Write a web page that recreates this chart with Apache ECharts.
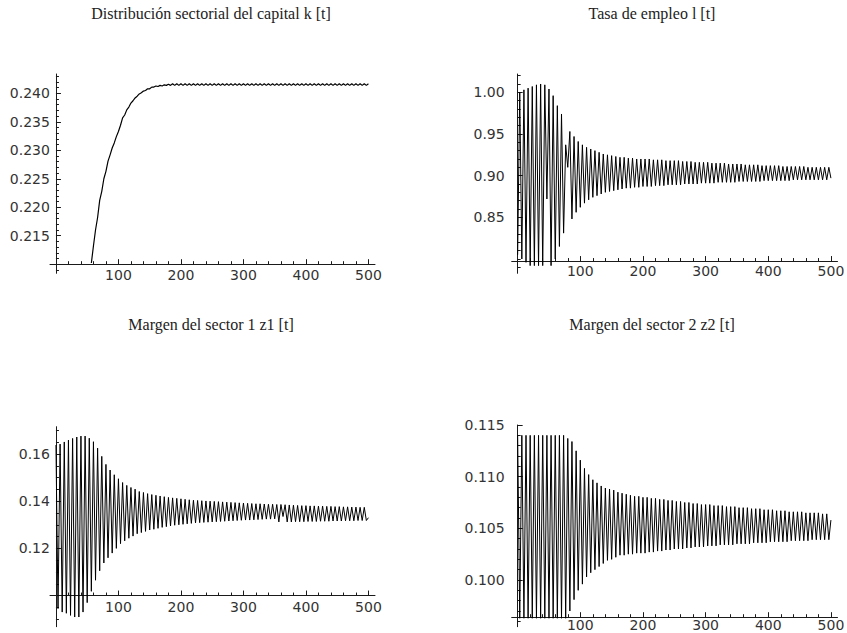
<!DOCTYPE html>
<html>
<head>
<meta charset="utf-8">
<title>Gráficos</title>
<script src="https://cdn.jsdelivr.net/npm/echarts@6.0.0/dist/echarts.min.js"></script>
<style>
html,body{margin:0;padding:0;background:#ffffff;}
#chart{width:847px;height:633px;}
</style>
</head>
<body>
<div id="chart"></div>
<script>
const panelTitles = [
  'Distribución sectorial del capital k [t]',
  'Tasa de empleo l [t]',
  'Margen del sector 1 z1 [t]',
  'Margen del sector 2 z2 [t]'
];

// time axis of every series: t = timeStart + index * timeStep
const timeStart = 0;
const timeStep = 10 / 3;

const kValues = [
  null, null, null, null, null, null, null, null, null, null,
  null, null, null, null, null, null, null, 0.2102, 0.2132, 0.2160,
  0.2182, 0.2212, 0.2228, 0.2250, 0.2263, 0.2281, 0.2292, 0.2304, 0.2313, 0.2324,
  0.2333, 0.2344, 0.2357, 0.2362, 0.2371, 0.2376, 0.2383, 0.2387, 0.2392, 0.2395,
  0.2399, 0.2401, 0.2404, 0.2405, 0.2408, 0.2408, 0.2411, 0.2411, 0.2413, 0.2412,
  0.2414, 0.2413, 0.2415, 0.2414, 0.2416, 0.2414, 0.2417, 0.2414, 0.2417, 0.2414,
  0.2417, 0.2414, 0.2417, 0.2414, 0.2417, 0.2414, 0.2417, 0.2414, 0.2417, 0.2414,
  0.2417, 0.2414, 0.2417, 0.2414, 0.2417, 0.2414, 0.2417, 0.2414, 0.2417, 0.2414,
  0.2417, 0.2414, 0.2417, 0.2414, 0.2417, 0.2414, 0.2417, 0.2414, 0.2417, 0.2414,
  0.2417, 0.2414, 0.2417, 0.2414, 0.2417, 0.2414, 0.2417, 0.2414, 0.2417, 0.2414,
  0.2417, 0.2414, 0.2417, 0.2414, 0.2417, 0.2414, 0.2417, 0.2414, 0.2417, 0.2414,
  0.2417, 0.2414, 0.2417, 0.2414, 0.2417, 0.2414, 0.2417, 0.2414, 0.2417, 0.2414,
  0.2417, 0.2414, 0.2417, 0.2414, 0.2417, 0.2414, 0.2417, 0.2414, 0.2417, 0.2414,
  0.2417, 0.2414, 0.2417, 0.2414, 0.2417, 0.2414, 0.2417, 0.2414, 0.2417, 0.2414,
  0.2417, 0.2414, 0.2417, 0.2414, 0.2417, 0.2414, 0.2417, 0.2414, 0.2417, 0.2414,
  0.2417
];

const lValues = [
  0.805, 1.000, 0.800, 1.003, 0.796, 1.005, 0.792, 1.007, 0.792, 1.009,
  0.792, 1.010, 0.792, 1.009, 0.872, 1.004, 0.792, 0.996, 0.800, 0.984,
  0.815, 0.974, 0.831, 0.937, 0.910, 0.953, 0.848, 0.947, 0.856, 0.941,
  0.862, 0.937, 0.867, 0.934, 0.871, 0.932, 0.874, 0.930, 0.876, 0.928,
  0.878, 0.926, 0.880, 0.925, 0.881, 0.924, 0.882, 0.923, 0.883, 0.922,
  0.884, 0.922, 0.885, 0.921, 0.885, 0.921, 0.886, 0.920, 0.886, 0.920,
  0.887, 0.920, 0.887, 0.920, 0.887, 0.919, 0.888, 0.919, 0.888, 0.919,
  0.888, 0.918, 0.889, 0.918, 0.889, 0.918, 0.889, 0.918, 0.889, 0.917,
  0.890, 0.917, 0.890, 0.917, 0.890, 0.916, 0.890, 0.916, 0.891, 0.916,
  0.891, 0.916, 0.891, 0.915, 0.891, 0.915, 0.892, 0.915, 0.892, 0.915,
  0.892, 0.914, 0.892, 0.914, 0.892, 0.914, 0.893, 0.914, 0.893, 0.913,
  0.893, 0.913, 0.893, 0.913, 0.893, 0.913, 0.893, 0.912, 0.894, 0.912,
  0.894, 0.912, 0.894, 0.912, 0.894, 0.912, 0.894, 0.911, 0.894, 0.911,
  0.894, 0.911, 0.895, 0.911, 0.895, 0.911, 0.895, 0.911, 0.895, 0.910,
  0.895, 0.910, 0.895, 0.910, 0.895, 0.910, 0.895, 0.910, 0.895, 0.910,
  0.897
];

const z1Values = [
  0.1638, 0.0945, 0.1642, 0.0930, 0.1651, 0.0925, 0.1659, 0.0916, 0.1666, 0.0909,
  0.1672, 0.0909, 0.1676, 0.0930, 0.1676, 0.0970, 0.1667, 0.1018, 0.1652, 0.1065,
  0.1625, 0.1105, 0.1590, 0.1138, 0.1556, 0.1160, 0.1532, 0.1180, 0.1512, 0.1200,
  0.1495, 0.1220, 0.1479, 0.1232, 0.1467, 0.1243, 0.1458, 0.1252, 0.1451, 0.1262,
  0.1441, 0.1267, 0.1437, 0.1272, 0.1432, 0.1278, 0.1428, 0.1281, 0.1425, 0.1285,
  0.1422, 0.1289, 0.1419, 0.1292, 0.1416, 0.1295, 0.1414, 0.1298, 0.1412, 0.1300,
  0.1410, 0.1302, 0.1408, 0.1304, 0.1406, 0.1306, 0.1404, 0.1308, 0.1403, 0.1309,
  0.1402, 0.1310, 0.1401, 0.1311, 0.1400, 0.1312, 0.1399, 0.1313, 0.1398, 0.1314,
  0.1397, 0.1315, 0.1396, 0.1316, 0.1395, 0.1317, 0.1394, 0.1318, 0.1393, 0.1319,
  0.1392, 0.1320, 0.1391, 0.1320, 0.1390, 0.1321, 0.1389, 0.1322, 0.1389, 0.1323,
  0.1388, 0.1324, 0.1387, 0.1324, 0.1387, 0.1325, 0.1386, 0.1312, 0.1386, 0.1335,
  0.1385, 0.1312, 0.1384, 0.1312, 0.1383, 0.1313, 0.1382, 0.1313, 0.1381, 0.1313,
  0.1381, 0.1314, 0.1380, 0.1314, 0.1380, 0.1314, 0.1379, 0.1315, 0.1379, 0.1315,
  0.1378, 0.1315, 0.1378, 0.1316, 0.1377, 0.1316, 0.1377, 0.1316, 0.1376, 0.1317,
  0.1376, 0.1317, 0.1375, 0.1317, 0.1375, 0.1318, 0.1374, 0.1318, 0.1374, 0.1318,
  0.1330
];

const z2Values = [
  0.1140, 0.0963, 0.1140, 0.0963, 0.1140, 0.0963, 0.1140, 0.0963, 0.1140, 0.0963,
  0.1140, 0.0963, 0.1140, 0.0963, 0.1140, 0.0963, 0.1140, 0.0963, 0.1140, 0.0963,
  0.1140, 0.0963, 0.1140, 0.0963, 0.1137, 0.0970, 0.1134, 0.0981, 0.1125, 0.0990,
  0.1116, 0.0996, 0.1108, 0.1003, 0.1102, 0.1007, 0.1097, 0.1010, 0.1094, 0.1013,
  0.1091, 0.1016, 0.1089, 0.1019, 0.1088, 0.1020, 0.1087, 0.1022, 0.1085, 0.1024,
  0.1084, 0.1024, 0.1083, 0.1025, 0.1082, 0.1025, 0.1081, 0.1026, 0.1081, 0.1026,
  0.1080, 0.1026, 0.1080, 0.1027, 0.1079, 0.1027, 0.1079, 0.1028, 0.1078, 0.1028,
  0.1078, 0.1029, 0.1077, 0.1029, 0.1077, 0.1030, 0.1076, 0.1030, 0.1076, 0.1030,
  0.1075, 0.1031, 0.1075, 0.1031, 0.1074, 0.1032, 0.1074, 0.1032, 0.1073, 0.1032,
  0.1073, 0.1033, 0.1073, 0.1033, 0.1072, 0.1033, 0.1072, 0.1034, 0.1072, 0.1034,
  0.1071, 0.1034, 0.1071, 0.1034, 0.1071, 0.1035, 0.1070, 0.1035, 0.1070, 0.1035,
  0.1070, 0.1035, 0.1069, 0.1036, 0.1069, 0.1036, 0.1069, 0.1036, 0.1068, 0.1036,
  0.1068, 0.1037, 0.1068, 0.1037, 0.1067, 0.1037, 0.1067, 0.1037, 0.1067, 0.1037,
  0.1066, 0.1038, 0.1066, 0.1038, 0.1066, 0.1038, 0.1066, 0.1038, 0.1065, 0.1038,
  0.1065, 0.1039, 0.1065, 0.1039, 0.1065, 0.1039, 0.1064, 0.1039, 0.1064, 0.1039,
  0.1058
];

const xTickLabels = [100, 200, 300, 400, 500];
const kTickLabels = [0.215, 0.220, 0.225, 0.230, 0.235, 0.240];
const lTickLabels = [0.85, 0.90, 0.95, 1.00];
const z1TickLabels = [0.12, 0.14, 0.16];
const z2TickLabels = [0.100, 0.105, 0.110, 0.115];

const panels = [
  { values: kValues, ticks: kTickLabels, minorStep: 0.001, decimals: 3 },
  { values: lValues, ticks: lTickLabels, minorStep: 0.01, decimals: 2 },
  { values: z1Values, ticks: z1TickLabels, minorStep: 0.005, decimals: 2 },
  { values: z2Values, ticks: z2TickLabels, minorStep: 0.001, decimals: 3 }
];

// layout (pixels) and axis ranges of each panel
const layouts = [
  { left: 50, top: 74, width: 325, height: 199.3, xMin: -9.5, xMax: 510.5, yMin: 0.2084, yMax: 0.2434, cross: 0.210, labelMargin: 6, xLabelMargin: 4, lineWidth: 1.2, titleX: 211, titleY: 13 },
  { left: 511.7, top: 74, width: 325.8, height: 199.3, xMin: -9.5, xMax: 510.5, yMin: 0.7828, yMax: 1.022, cross: 0.7975, labelMargin: 13, xLabelMargin: 3, lineWidth: 1, titleX: 652, titleY: 13 },
  { left: 50, top: 426.7, width: 325, height: 200, xMin: -9.5, xMax: 510.5, yMin: 0.0868, yMax: 0.17157, cross: 0.100, labelMargin: 6, xLabelMargin: 4, lineWidth: 1, titleX: 211, titleY: 324 },
  { left: 511.7, top: 425, width: 325.8, height: 201.7, xMin: -9.5, xMax: 510.5, yMin: 0.09548, yMax: 0.115, cross: 0.0964, labelMargin: 13, xLabelMargin: 1, lineWidth: 1, titleX: 652, titleY: 324 }
];

function minorTicks(lo, hi, step, majors, skip) {
  const out = [];
  const start = Math.ceil(lo / step - 1e-9);
  const end = Math.floor(hi / step + 1e-9);
  for (let k = start; k <= end; k++) {
    const v = +(k * step).toFixed(6);
    if (majors.some(m => Math.abs(m - v) < step / 10)) continue;
    if (skip.some(m => Math.abs(m - v) < step / 10)) continue;
    out.push(v);
  }
  return out;
}

const axisColor = '#1a1a1a';
const labelFont = { fontFamily: 'DejaVu Sans', fontSize: 14, color: '#333333' };

const grids = [], xAxes = [], yAxes = [], series = [], graphics = [];

panels.forEach((p, i) => {
  const L = layouts[i];
  grids.push({ left: L.left, top: L.top, width: L.width, height: L.height, containLabel: false, outerBoundsMode: 'none' });

  const xOffset = -(L.cross - L.yMin) / (L.yMax - L.yMin) * L.height;
  const yOffset = -(0 - L.xMin) / (L.xMax - L.xMin) * L.width;

  const xMinor = minorTicks(0.5, L.xMax, 20, xTickLabels, []);
  const yMinor = minorTicks(L.yMin, L.yMax, p.minorStep, p.ticks, [L.cross]);

  const baseX = {
    type: 'value', gridIndex: i, min: L.xMin, max: L.xMax, position: 'bottom', offset: xOffset,
    splitLine: { show: false }, silent: true
  };
  xAxes.push(Object.assign({}, baseX, {
    axisLine: { show: true, onZero: false, lineStyle: { color: axisColor, width: 1 } },
    axisTick: { show: true, inside: true, length: 5, customValues: xTickLabels, lineStyle: { color: axisColor, width: 1 } },
    axisLabel: Object.assign({ show: true, customValues: xTickLabels, margin: L.xLabelMargin }, labelFont)
  }));
  xAxes.push(Object.assign({}, baseX, {
    axisLine: { show: true, onZero: false, lineStyle: { color: axisColor, width: 1, opacity: 0 } },
    axisTick: { show: true, inside: true, length: 3, customValues: xMinor, lineStyle: { color: axisColor, width: 1 } },
    axisLabel: { show: false }
  }));

  const baseY = {
    type: 'value', gridIndex: i, min: L.yMin, max: L.yMax, position: 'left', offset: yOffset,
    splitLine: { show: false }, silent: true
  };
  yAxes.push(Object.assign({}, baseY, {
    axisLine: { show: true, onZero: false, lineStyle: { color: axisColor, width: 1 } },
    axisTick: { show: true, inside: true, length: 5, customValues: p.ticks, lineStyle: { color: axisColor, width: 1 } },
    axisLabel: Object.assign({ show: true, customValues: p.ticks, margin: L.labelMargin,
      formatter: v => Number(v).toFixed(p.decimals) }, labelFont)
  }));
  yAxes.push(Object.assign({}, baseY, {
    axisLine: { show: true, onZero: false, lineStyle: { color: axisColor, width: 1, opacity: 0 } },
    axisTick: { show: true, inside: true, length: 3, customValues: yMinor, lineStyle: { color: axisColor, width: 1 } },
    axisLabel: { show: false }
  }));

  series.push({
    type: 'line',
    xAxisIndex: 2 * i,
    yAxisIndex: 2 * i,
    data: p.values.map((v, j) => [timeStart + j * timeStep, v]),
    symbol: 'none',
    showSymbol: false,
    connectNulls: false,
    clip: true,
    silent: true,
    lineStyle: { color: '#000000', width: L.lineWidth },
    emphasis: { disabled: true }
  });

  graphics.push({
    type: 'text',
    x: L.titleX,
    y: L.titleY,
    silent: true,
    style: {
      text: panelTitles[i],
      textAlign: 'center',
      textVerticalAlign: 'middle',
      fontFamily: 'Liberation Serif',
      fontSize: 16,
      fill: '#222222'
    }
  });
});

const chart = echarts.init(document.getElementById('chart'), null, { renderer: 'svg' });
chart.setOption({
  animation: false,
  backgroundColor: '#ffffff',
  grid: grids,
  xAxis: xAxes,
  yAxis: yAxes,
  series: series,
  graphic: graphics
});
</script>
</body>
</html>
